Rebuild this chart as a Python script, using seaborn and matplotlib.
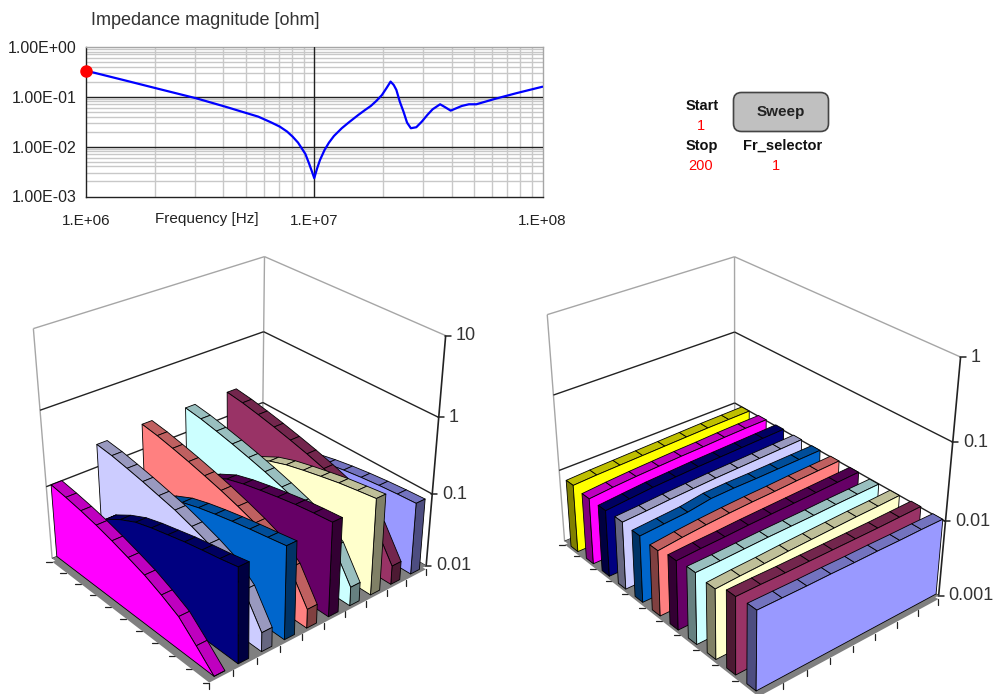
import numpy as np
import pandas as pd
import seaborn as sns
import matplotlib
matplotlib.use("Agg")
import matplotlib.pyplot as plt
from matplotlib.patches import Polygon, FancyBboxPatch

# impedance curve
freq_hz = [1.00e6, 1.46e6, 2.03e6, 3.04e6, 4.07e6, 5.08e6, 5.68e6, 6.45e6, 7.06e6, 7.60e6,
           8.04e6, 8.49e6, 8.81e6, 9.14e6, 9.48e6, 9.77e6, 1.00e7, 1.03e7, 1.06e7, 1.11e7,
           1.16e7, 1.22e7, 1.32e7, 1.42e7, 1.56e7, 1.67e7, 1.77e7, 1.87e7, 1.98e7, 2.07e7,
           2.16e7, 2.23e7, 2.29e7, 2.37e7, 2.46e7, 2.55e7, 2.65e7, 2.80e7, 2.96e7, 3.13e7,
           3.30e7, 3.56e7, 3.75e7, 3.96e7, 4.19e7, 4.43e7, 4.76e7, 5.13e7, 6.17e7, 7.67e7, 1.00e8]
magnitude = [0.331, 0.215, 0.147, 0.0926, 0.0631, 0.0464, 0.0398, 0.0307, 0.0251, 0.0200,
             0.0158, 0.0120, 0.00926, 0.00713, 0.00464, 0.00316, 0.00233, 0.00369, 0.00541, 0.00857,
             0.0120, 0.0163, 0.0233, 0.0307, 0.0430, 0.0541, 0.0651, 0.0819, 0.108, 0.147,
             0.200, 0.171, 0.136, 0.0794, 0.0501, 0.0302, 0.0233, 0.0244, 0.0316, 0.0430,
             0.0558, 0.0703, 0.0612, 0.0525, 0.0585, 0.0651, 0.0703, 0.0703, 0.0898, 0.117, 0.158]

# left 3D chart, one list per wall, front wall first
left_labels = ["10", "1", "0.1", "0.01"]
left_magenta = [0.100, 0.093, 0.085, 0.076, 0.066, 0.056, 0.047, 0.037, 0.028, 0.017, 0.010]
left_navy = [0.011, 0.028, 0.048, 0.066, 0.085, 0.100, 0.114, 0.130, 0.145, 0.160, 0.180]
left_lavender = [0.200, 0.190, 0.174, 0.158, 0.141, 0.126, 0.107, 0.089, 0.071, 0.045, 0.018]
left_blue = [0.011, 0.028, 0.048, 0.066, 0.085, 0.100, 0.114, 0.128, 0.142, 0.156, 0.172]
left_salmon = [0.220, 0.205, 0.185, 0.165, 0.145, 0.126, 0.107, 0.089, 0.071, 0.045, 0.018]
left_purple = [0.011, 0.030, 0.052, 0.074, 0.098, 0.115, 0.130, 0.145, 0.160, 0.172, 0.182]
left_cyan = [0.220, 0.205, 0.185, 0.165, 0.145, 0.126, 0.107, 0.089, 0.071, 0.045, 0.018]
left_cream = [0.011, 0.030, 0.052, 0.074, 0.098, 0.118, 0.135, 0.152, 0.170, 0.185, 0.200]
left_maroon = [0.220, 0.205, 0.185, 0.165, 0.145, 0.126, 0.107, 0.089, 0.071, 0.045, 0.018]
left_periwinkle = [0.011, 0.025, 0.040, 0.052, 0.062, 0.070, 0.077, 0.083, 0.088, 0.092, 0.095]
left_walls = [left_magenta, left_navy, left_lavender, left_blue, left_salmon, left_purple,
              left_cyan, left_cream, left_maroon, left_periwinkle]

# right 3D chart, back wall first
right_labels = ["1", "0.1", "0.01", "0.001"]
right_yellow = [0.0085, 0.0088, 0.0090, 0.0092, 0.0094, 0.0096, 0.0098, 0.0099, 0.0100]
right_magenta = [0.0080, 0.0085, 0.0089, 0.0092, 0.0095, 0.0097, 0.0100, 0.0102, 0.0103]
right_navy = [0.0080, 0.0085, 0.0090, 0.0093, 0.0096, 0.0098, 0.0100, 0.0102, 0.0104]
right_lavender = [0.0082, 0.0085, 0.0089, 0.0092, 0.0095, 0.0097, 0.0099, 0.0101, 0.0103]
right_blue = [0.0079, 0.0083, 0.0087, 0.0097, 0.0099, 0.0099, 0.0100, 0.0101, 0.0102]
right_salmon = [0.0075, 0.0081, 0.0086, 0.0090, 0.0093, 0.0095, 0.0098, 0.0100, 0.0102]
right_purple = [0.0083, 0.0086, 0.0088, 0.0091, 0.0093, 0.0095, 0.0097, 0.0099, 0.0101]
right_cyan = [0.0088, 0.0089, 0.0091, 0.0093, 0.0094, 0.0095, 0.0097, 0.0098, 0.0099]
right_cream = [0.0083, 0.0086, 0.0088, 0.0091, 0.0093, 0.0095, 0.0097, 0.0098, 0.0100]
right_maroon = [0.0102, 0.0102, 0.0101, 0.0101, 0.0101, 0.0101, 0.0101, 0.0102, 0.0103]
right_periwinkle = [0.0107, 0.0106, 0.0105, 0.0105, 0.0104, 0.0104, 0.0103, 0.0103, 0.0102]
right_walls = [right_yellow, right_magenta, right_navy, right_lavender, right_blue, right_salmon,
               right_purple, right_cyan, right_cream, right_maroon, right_periwinkle]

excel_colors = ["#FFFF00", "#FF00FF", "#000080", "#CCCCFF", "#0066CC", "#FF8080",
                "#660066", "#CCFFFF", "#FFFFCC", "#993366", "#9999FF"]

# control panel texts
panel_labels = ["Start", "Stop", "Fr_selector"]
panel_values = ["1", "200", "1"]

# camera anchors: (along wall, across walls, decades above floor) -> picture pixel
left_camera = [((0, 0, 0), (52, 557)), ((1, 0, 0), (209, 680)), ((0, 1, 0), (262, 472)),
               ((1, 1, 0), (427, 565)), ((0, 0, 3), (33, 329)), ((0, 1, 3), (264, 257)),
               ((1, 1, 3), (446, 337)), ((1, 1, 1), (430, 493)), ((1, 1, 2), (440, 417)),
               ((0, 1, 1), (263, 402)), ((0, 1, 2), (264, 330)), ((0, 0, 2), (40, 410)),
               ((0, 0, 1), (47, 487))]
right_camera = [((0, 0, 0), (564, 542)), ((1, 0, 0), (735, 468)), ((0, 1, 0), (758, 692)),
                ((1, 1, 0), (938, 596)), ((0, 0, 3), (548, 313)), ((1, 0, 3), (734, 257)),
                ((1, 1, 3), (960, 357)), ((1, 1, 1), (947, 522)), ((1, 1, 2), (953, 442)),
                ((1, 0, 1), (735, 403)), ((1, 0, 2), (734, 333)), ((0, 0, 2), (553, 395)),
                ((0, 0, 1), (560, 472))]


def fit_camera(anchors):
    rows = []
    for (a, b, c), (x, y) in anchors:
        rows.append([a, b, c, 1, 0, 0, 0, 0, -x * a, -x * b, -x * c, -x])
        rows.append([0, 0, 0, 0, a, b, c, 1, -y * a, -y * b, -y * c, -y])
    return np.linalg.svd(np.array(rows, dtype=float))[2][-1].reshape(3, 4)


def project(cam, a, b, c):
    p = cam @ np.array([a, b, c, 1.0])
    return p[0] / p[2], p[1] / p[2]


def shade(color, amount):
    return tuple(np.array(matplotlib.colors.to_rgb(color)) * amount)


def draw_back(ax, cam, corner, labels):
    # corner is first wall end, the far corner and last wall end on the floor
    first, far, last = corner

    def line(p, q, **kw):
        ax.plot(*zip(project(cam, *p), project(cam, *q)), zorder=0.5, solid_capstyle="butt", **kw)

    grey = "#a6a6a6"
    line((*first, 0), (*first, 3), color=grey, lw=1)
    line((*far, 0), (*far, 3), color=grey, lw=1)
    line((*first, 3), (*far, 3), color=grey, lw=1)
    line((*far, 3), (*last, 3), color=grey, lw=1)
    for level in [1, 2]:
        line((*first, level), (*far, level), color="#222222", lw=1)
        line((*far, level), (*last, level), color="#222222", lw=1)
    line((*first, 0), (*far, 0), color="#222222", lw=0.8)
    line((*far, 0), (*last, 0), color="#222222", lw=0.8)
    line((*last, 0), (*last, 3), color="#222222", lw=1.2)
    for i, label in enumerate(labels):
        x, y = project(cam, *last, 3 - i)
        ax.plot([x - 1, x + 5], [y, y], color="#222222", lw=1.1, zorder=0.5)
        ax.text(x + 10, y, label, ha="left", va="center", fontsize=13, color="#333333")


def draw_floor(ax, cam, corners):
    slab = [project(cam, a, b, -0.05) for a, b in corners]
    top = [project(cam, a, b, 0) for a, b in corners]
    ax.add_patch(Polygon(slab, closed=True, fc="#808080", ec="none", zorder=1))
    ax.add_patch(Polygon(top, closed=True, fc="#808080", ec="none", zorder=1))


def draw_ticks(ax, cam, start, stop, offset, count):
    for t in np.linspace(0, 1, count + 1):
        a = start[0] + (stop[0] - start[0]) * t
        b = start[1] + (stop[1] - start[1]) * t
        x, y = project(cam, a, b, -0.05)
        ax.plot([x, x + offset[0]], [y, y + offset[1]], color="#222222", lw=0.9, zorder=0.8)


def draw_wall(ax, cam, values, color, b_face, b_back, cap_at, z, floor_value):
    heights = np.log10(values) - np.log10(floor_value)
    along = np.linspace(0, 1, len(values))
    edge = dict(ec="black", lw=0.6, joinstyle="round")
    for k in range(len(values) - 1):
        strip = [project(cam, along[k], b_face, heights[k]),
                 project(cam, along[k + 1], b_face, heights[k + 1]),
                 project(cam, along[k + 1], b_back, heights[k + 1]),
                 project(cam, along[k], b_back, heights[k])]
        ax.add_patch(Polygon(strip, closed=True, fc=shade(color, 0.75), zorder=z, **edge))
    idx = -1 if cap_at == 1 else 0
    cap = [project(cam, cap_at, b_face, 0), project(cam, cap_at, b_face, heights[idx]),
           project(cam, cap_at, b_back, heights[idx]), project(cam, cap_at, b_back, 0)]
    ax.add_patch(Polygon(cap, closed=True, fc=shade(color, 0.5), zorder=z, **edge))
    face = [project(cam, a, b_face, h) for a, h in zip(along, heights)]
    face += [project(cam, 1, b_face, 0), project(cam, 0, b_face, 0)]
    ax.add_patch(Polygon(face, closed=True, fc=color, zorder=z, **edge))


sns.set_theme(style="white")
plt.rcParams["font.family"] = ["Liberation Sans", "DejaVu Sans"]

fig = plt.figure(figsize=(9.93, 6.94), dpi=100)
W, H = 993, 694

# impedance plot
ax = fig.add_axes([86 / W, 1 - 196.5 / H, 456.5 / W, 149.8 / H])
df = pd.DataFrame({"freq": freq_hz, "mag": magnitude})
sns.lineplot(data=df, x="freq", y="mag", color="#0000FF", lw=1.6, sort=False, errorbar=None, ax=ax, zorder=4)
ax.set_xscale("log")
ax.set_yscale("log")
ax.set_xlim(1e6, 1e8)
ax.set_ylim(1e-3, 1)
ax.xaxis.set_minor_locator(matplotlib.ticker.LogLocator(subs=np.arange(2, 10), numticks=12))
ax.yaxis.set_minor_locator(matplotlib.ticker.LogLocator(subs=np.arange(2, 10), numticks=12))
ax.xaxis.set_minor_formatter(matplotlib.ticker.NullFormatter())
ax.yaxis.set_minor_formatter(matplotlib.ticker.NullFormatter())
ax.grid(which="minor", color="#c8c8c8", lw=1)
ax.set_axisbelow(True)
ax.tick_params(which="minor", length=0)
ax.set_xticks([1e6, 1e7, 1e8], ["1.E+06", "1.E+07", "1.E+08"])
ax.set_yticks([1, 0.1, 0.01, 0.001], ["1.00E+00", "1.00E-01", "1.00E-02", "1.00E-03"])
ax.tick_params(axis="x", which="major", length=0, pad=12.5, labelsize=11, colors="#222222")
ax.tick_params(axis="y", which="major", length=0, pad=7, labelsize=11.5, colors="#222222")
ax.set_xlabel("")
ax.set_ylabel("")
ax.axvline(1e7, color="#222222", lw=1, zorder=3)
for level in [0.1, 0.01]:
    ax.axhline(level, color="#222222", lw=1, zorder=3)
ax.plot([freq_hz[0]], [magnitude[0]], "o", color="#FF0000", ms=8, clip_on=False, zorder=5)
for side, spine in ax.spines.items():
    spine.set_visible(True)
    spine.set_color("#222222" if side in ("left", "bottom") else "#a6a6a6")
    spine.set_linewidth(1)

# pixel layer for everything else
px = fig.add_axes([0, 0, 1, 1], zorder=-1)
px.set_xlim(0, W)
px.set_ylim(H, 0)
px.axis("off")
px.text(91, 20, "Impedance magnitude [ohm]", fontsize=13, color="#333333", va="center")
px.text(207, 219, "Frequency [Hz]", fontsize=11, color="#222222", ha="center", va="center")

# control panel
px.add_patch(FancyBboxPatch((738, 97), 86, 30, boxstyle="round,pad=4.5,rounding_size=8", fc="#c0c0c0", ec="#444444", lw=1.2))
px.text(781, 112, "Sweep", fontsize=11, fontweight="bold", color="#222222", ha="center", va="center")
for label, x, y in zip(panel_labels, [702, 702, 783], [106, 146, 146]):
    px.text(x, y, label, fontsize=10.5, fontweight="bold", color="#111111", ha="center", va="center")
for value, x, y in zip(panel_values, [701, 701, 776], [126, 166, 166]):
    px.text(x, y, value, fontsize=10.5, color="#FF0000", ha="center", va="center")

# left 3D chart: walls run along the left-front edge, front wall drawn last
cam = fit_camera(left_camera)
draw_back(px, cam, ((0, 0), (0, 1), (1, 1)), left_labels)
draw_floor(px, cam, [(0, 0), (0, 1), (1, 1), (1, 0)])
draw_ticks(px, cam, (0, 0), (1, 0), (-6, 0), 10)
draw_ticks(px, cam, (1, 0), (1, 1), (0, 6), 10)
count = len(left_walls)
for i in range(count - 1, -1, -1):
    draw_wall(px, cam, left_walls[i], excel_colors[i + 1], (i + 0.2) / count, (i + 0.65) / count,
              1, 2 + count - i, 0.01)

# right 3D chart: walls run towards the right back corner, back wall drawn first
cam = fit_camera(right_camera)
draw_back(px, cam, ((0, 0), (1, 0), (1, 1)), right_labels)
draw_floor(px, cam, [(0, 0), (1, 0), (1, 1), (0, 1)])
draw_ticks(px, cam, (0, 0), (0, 1), (-6, 0), 11)
draw_ticks(px, cam, (0, 1), (1, 1), (0, 6), 8)
count = len(right_walls)
for i in range(count):
    draw_wall(px, cam, right_walls[i], excel_colors[i], (i + 0.88) / count, (i + 0.43) / count,
              0, 2 + i, 0.001)

ax.patch.set_alpha(0)
fig.savefig("out.png", dpi=100)
